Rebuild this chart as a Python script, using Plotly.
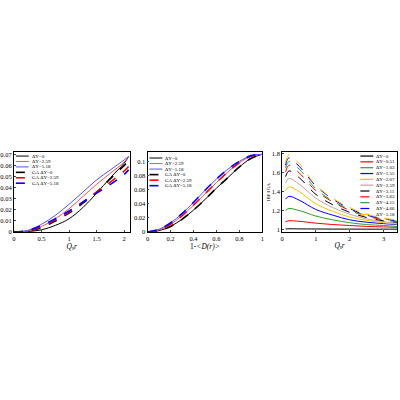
import plotly.graph_objects as go

# panel 1: Q_s r
q1 = [0, 0.25, 0.5, 0.75, 1.0, 1.25, 1.5, 1.75, 2.0, 2.08]
p1_dy0 = [0, 0.0005, 0.002, 0.006, 0.012, 0.022, 0.035, 0.049, 0.062, 0.068]
p1_dy259 = [0, 0.001, 0.005, 0.012, 0.021, 0.032, 0.043, 0.053, 0.063, 0.068]
p1_dy518 = [0, 0.0015, 0.007, 0.015, 0.025, 0.036, 0.047, 0.056, 0.065, 0.068]
p1_ga0 = [0, 0.001, 0.004, 0.010, 0.017, 0.026, 0.036, 0.048, 0.060, 0.064]
p1_ga259 = [0, 0.001, 0.005, 0.011, 0.018, 0.027, 0.036, 0.045, 0.055, 0.059]
p1_ga518 = [0, 0.0012, 0.006, 0.012, 0.019, 0.027, 0.035, 0.043, 0.052, 0.056]

# panel 2: 1-<D(r)>
d2 = [0, 0.1, 0.2, 0.3, 0.4, 0.5, 0.6, 0.7, 0.8, 0.9, 1.0]
p2_dy0 = [0, 0.002, 0.008, 0.018, 0.031, 0.046, 0.062, 0.077, 0.092, 0.104, 0.11]
p2_dy259 = [0, 0.003, 0.011, 0.023, 0.038, 0.054, 0.070, 0.085, 0.098, 0.107, 0.11]
p2_dy518 = [0, 0.004, 0.013, 0.026, 0.042, 0.059, 0.075, 0.089, 0.100, 0.108, 0.11]

# panel 3: ratio vs Q_s r
q3 = [0.1, 0.2, 0.5, 1.0, 1.5, 2.0, 2.5, 3.0, 3.4]
dy3 = ["0", "0.51", "1.03", "1.55", "2.07", "2.59", "3.11", "3.63", "4.15", "4.66", "5.18"]
ratio3 = [
    [1.003, 1.005, 1.004, 1.003, 1.002, 1.002, 1.001, 1.001, 1.001],
    [1.08, 1.09, 1.085, 1.065, 1.05, 1.04, 1.03, 1.025, 1.02],
    [1.20, 1.22, 1.20, 1.14, 1.10, 1.07, 1.05, 1.04, 1.03],
    [1.32, 1.35, 1.31, 1.21, 1.15, 1.10, 1.075, 1.06, 1.05],
    [1.41, 1.45, 1.40, 1.27, 1.19, 1.13, 1.095, 1.07, 1.055],
    [1.49, 1.54, 1.48, 1.33, 1.23, 1.16, 1.11, 1.08, 1.065],
    [1.56, 1.62, 1.55, 1.37, 1.26, 1.18, 1.125, 1.09, 1.075],
    [1.61, 1.68, 1.60, 1.41, 1.29, 1.20, 1.14, 1.10, 1.08],
    [1.65, 1.72, 1.64, 1.43, 1.30, 1.21, 1.145, 1.11, 1.085],
    [1.68, 1.76, 1.67, 1.46, 1.32, 1.22, 1.15, 1.115, 1.09],
    [1.71, 1.79, 1.70, 1.47, 1.33, 1.23, 1.16, 1.12, 1.095],
]
colors3 = ["black", "red", "#2ca02c", "blue", "#ffbf00", "#c9a0a0",
           "black", "red", "#2ca02c", "blue", "#ffbf00"]

FONT = "Liberation Serif"
fig = go.Figure()

def line(x, y, color, dash, xa, ya, w=1):
    fig.add_trace(go.Scatter(x=x, y=y, mode="lines", xaxis=xa, yaxis=ya, showlegend=False,
                             line=dict(color=color, dash=dash, width=w, shape="spline")))

# hand-drawn legend rows (plotly's legend rows are too tall at this size)
def legend_row(px0, py, label, color, dash, w=1):
    x0, x1, y = px0 / 400, (px0 + 13) / 400, 1 - py / 400
    fig.add_shape(type="line", xref="paper", yref="paper", x0=x0, x1=x1, y0=y, y1=y,
                  line=dict(color=color, dash=dash, width=w))
    fig.add_annotation(xref="paper", yref="paper", x=x1 + 1 / 400, y=y, text=label,
                       showarrow=False, xanchor="left", yanchor="middle",
                       font=dict(size=5, family=FONT))

names1 = ["ΔY=0", "ΔY=2.59", "ΔY=5.18", "GA ΔY=0", "GA ΔY=2.59", "GA ΔY=5.18"]
cols1 = ["black", "#ff5050", "#5050ff", "black", "red", "blue"]
series1 = [p1_dy0, p1_dy259, p1_dy518, p1_ga0, p1_ga259, p1_ga518]
series2 = [p2_dy0, p2_dy259, p2_dy518, p2_dy0, p2_dy259, p2_dy518]
for i in range(6):
    dash = "solid" if i < 3 else "dash"
    w = 1 if i < 3 else 1.6
    line(q1, series1[i], cols1[i], dash, "x", "y", w)
    line(d2, series2[i], cols1[i], dash, "x2", "y2", w)
    legend_row(14, 156 + 5.5 * i, names1[i], cols1[i], dash, w)
    legend_row(149, 158 + 5.6 * i, names1[i], cols1[i], dash, w)

for i, (lab, vals) in enumerate(zip(dy3, ratio3)):
    dash = "solid" if i < 6 else "dash"
    line(q3, vals, colors3[i], dash, "x3", "y3")
    legend_row(362, 156 + 5.9 * i, "ΔY=" + lab, colors3[i], dash, 1.2)

ax = dict(showgrid=False, zeroline=False, showline=True, linecolor="black", linewidth=0.8,
          mirror=True, ticks="inside", ticklen=2, tickfont=dict(size=6.5, family=FONT))

def ttl(text, size=7.5):
    return dict(text=text, font=dict(size=size, family=FONT), standoff=1)

yfrac = [0.4175, 0.62]
fig.update_layout(
    width=400, height=400, margin=dict(l=0, r=0, t=0, b=0),
    plot_bgcolor="white", paper_bgcolor="white",
    font=dict(family=FONT, color="black"),
    xaxis=dict(ax, domain=[0.03, 0.3225], range=[0, 2.1], dtick=0.5, title=ttl("<i>Q<sub>s</sub>r</i>")),
    yaxis=dict(ax, domain=yfrac, range=[0, 0.072], dtick=0.01, anchor="x"),
    xaxis2=dict(ax, domain=[0.3675, 0.6575], range=[0, 1], dtick=0.2,
                title=ttl("1-<i>&lt;D(r)&gt;</i>"), anchor="y2"),
    yaxis2=dict(ax, domain=yfrac, range=[0, 0.113], dtick=0.02, anchor="x2"),
    xaxis3=dict(ax, domain=[0.7075, 0.9975], range=[0, 3.4], dtick=1,
                title=ttl("<i>Q<sub>s</sub>r</i>"), anchor="y3"),
    yaxis3=dict(ax, domain=yfrac, range=[0.97, 1.82], dtick=0.2, anchor="x3",
                title=ttl("IBP/IGA", 5)),
)
fig.write_html("out.html", config={"displayModeBar": False},
               post_script="document.body.style.margin='0';document.body.style.overflow='hidden';")
